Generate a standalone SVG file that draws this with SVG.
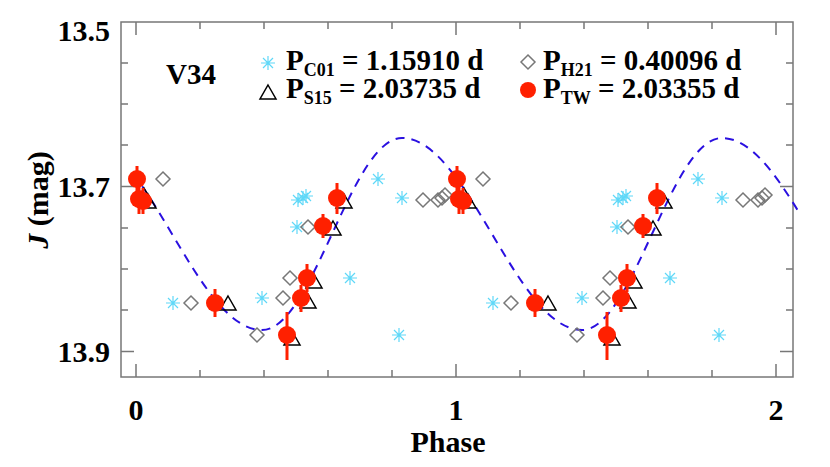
<svg xmlns="http://www.w3.org/2000/svg" xmlns:xlink="http://www.w3.org/1999/xlink" width="830" height="467" viewBox="0 0 830 467">
<style>
text{font-family:"Liberation Serif","Times New Roman",serif;font-weight:bold;fill:#000}
.tk{font-size:30px}
.lg{font-size:29px}
.ax{stroke:#777;stroke-width:1.5;fill:none}
.rc{fill:#ff2000}
.eb{stroke:#ff2000;stroke-width:3}
.tr{fill:none;stroke:#000;stroke-width:1.5}
.dm{fill:none;stroke:#777;stroke-width:1.5}
.as{stroke:#5fd8f8;stroke-width:1.2}
</style>
<defs>
<clipPath id="cp"><rect x="136" y="0" width="662" height="467"/></clipPath>
<g id="ast"><path class="as" d="M-7 0H7M0-7V7M-5-5L5 5M-5 5L5-5"/></g>
<g id="tri"><path class="tr" d="M0-8L8 6H-8Z"/></g>
<g id="dia"><path class="dm" d="M0-7L7 0L0 7L-7 0Z"/></g>
<g id="set">
<use xlink:href="#ast" x="173" y="303"/><use xlink:href="#ast" x="262" y="298"/><use xlink:href="#ast" x="297" y="227"/><use xlink:href="#ast" x="298" y="200"/><use xlink:href="#ast" x="303" y="198"/><use xlink:href="#ast" x="306" y="196"/><use xlink:href="#ast" x="350" y="278"/><use xlink:href="#ast" x="378" y="179"/><use xlink:href="#ast" x="402" y="198"/><use xlink:href="#ast" x="399" y="335"/>
<use xlink:href="#dia" x="163" y="179"/><use xlink:href="#dia" x="191" y="303"/><use xlink:href="#dia" x="257" y="335"/><use xlink:href="#dia" x="283" y="298"/><use xlink:href="#dia" x="290" y="278"/><use xlink:href="#dia" x="308" y="227"/><use xlink:href="#dia" x="423" y="200"/><use xlink:href="#dia" x="438" y="200"/><use xlink:href="#dia" x="442" y="198"/><use xlink:href="#dia" x="445" y="195"/>
<use xlink:href="#tri" x="144" y="196"/><use xlink:href="#tri" x="148" y="202"/><use xlink:href="#tri" x="228" y="304"/><use xlink:href="#tri" x="292" y="339"/><use xlink:href="#tri" x="308" y="302"/><use xlink:href="#tri" x="314" y="282"/><use xlink:href="#tri" x="333" y="229"/><use xlink:href="#tri" x="344" y="202"/>
<path class="eb" d="M137 166V196M139 186V214M143 188V214M215 289V317M287 312V360M301 285V312M307 264V292M323 214V238M337 183V214"/>
<circle class="rc" cx="137" cy="179" r="9"/><circle class="rc" cx="139" cy="199" r="9"/><circle class="rc" cx="143" cy="201" r="9"/><circle class="rc" cx="215" cy="303" r="9"/><circle class="rc" cx="287" cy="335" r="9"/><circle class="rc" cx="301" cy="298" r="9"/><circle class="rc" cx="307" cy="278" r="9"/><circle class="rc" cx="323" cy="226" r="9"/><circle class="rc" cx="337" cy="198" r="9"/>
</g>
</defs>
<rect width="830" height="467" fill="#fff"/>
<g id="axes">
<rect class="ax" x="121" y="22" width="672" height="355"/>
<path class="ax" d="M121 186.5H134M121 351.5H134M793 186.5H780M793 351.5H780M121 104H128M121 269H128M793 104H786M793 269H786M121 63H128M121 145H128M121 228H128M121 310H128M793 63H786M793 145H786M793 228H786M793 310H786"/>
<path class="ax" d="M136 377V364M456 377V364M776 377V364M200 377V370M264 377V370M328 377V370M392 377V370M520 377V370M584 377V370M648 377V370M712 377V370M136 22V35M456 22V35M776 22V35M200 22V29M264 22V29M328 22V29M392 22V29M520 22V29M584 22V29M648 22V29M712 22V29"/>
<text class="tk" x="110" y="41" text-anchor="end">13.5</text>
<text class="tk" x="110" y="197" text-anchor="end">13.7</text>
<text class="tk" x="110" y="362" text-anchor="end">13.9</text>
<text class="tk" x="136" y="420" text-anchor="middle">0</text>
<text class="tk" x="456" y="420" text-anchor="middle">1</text>
<text class="tk" x="776" y="420" text-anchor="middle">2</text>
<text class="tk" x="448" y="452" text-anchor="middle">Phase</text>
<text class="tk" transform="translate(48,200) rotate(-90)" text-anchor="middle"><tspan font-style="italic">J</tspan> (mag)</text>
</g>
<g id="curve" clip-path="url(#cp)">
<path d="M82 138C147.6 138 196.4 330 262 330C313 330 351 138 402 138C467.6 138 516.4 330 582 330C633 330 671 138 722 138C787.6 138 836.4 330 902 330" fill="none" stroke="#2a10e0" stroke-width="2" stroke-dasharray="9,7"/>
</g>
<g id="data">
<use xlink:href="#set"/>
<use xlink:href="#set" x="320"/>
</g>
<g id="legend">
<text class="lg" x="166" y="84">V34</text>
<use xlink:href="#ast" x="268" y="63"/>
<text class="lg" x="286" y="70">P<tspan font-size="18" dy="6">C01</tspan><tspan dy="-6"> = 1.15910 d</tspan></text>
<use xlink:href="#dia" x="528" y="62"/>
<text class="lg" x="543" y="70">P<tspan font-size="18" dy="6">H21</tspan><tspan dy="-6"> = 0.40096 d</tspan></text>
<use xlink:href="#tri" x="268" y="93"/>
<text class="lg" x="286" y="98">P<tspan font-size="18" dy="6">S15</tspan><tspan dy="-6"> = 2.03735 d</tspan></text>
<circle class="rc" cx="528" cy="90" r="8"/>
<text class="lg" x="543" y="98">P<tspan font-size="18" dy="6">TW</tspan><tspan dy="-6"> = 2.03355 d</tspan></text>
</g>
</svg>
